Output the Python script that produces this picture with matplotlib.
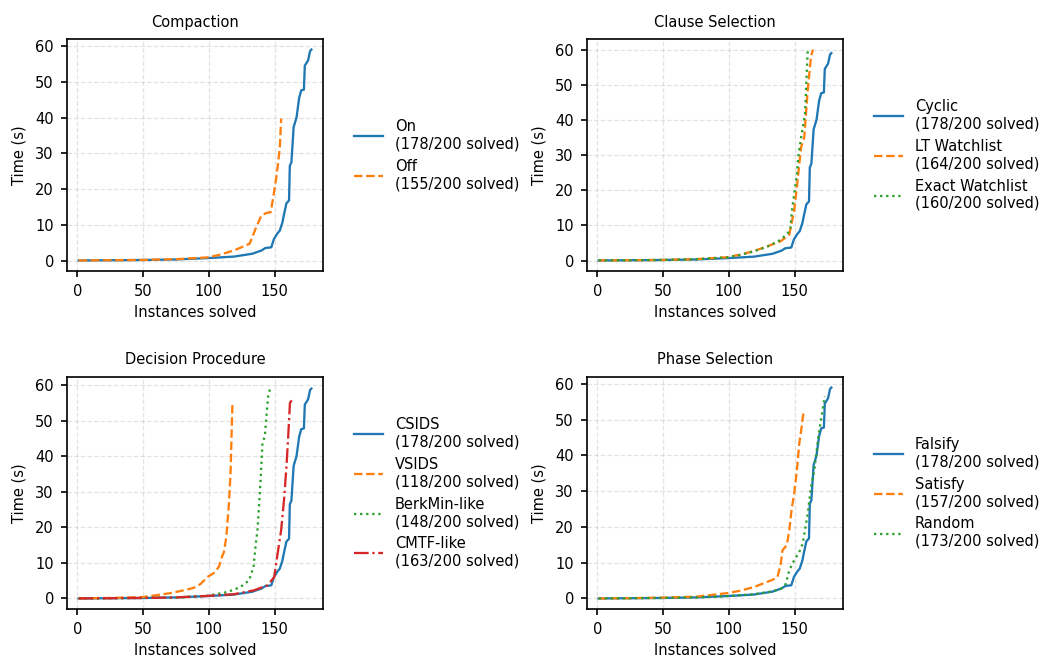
import matplotlib
matplotlib.use("Agg")
import matplotlib.pyplot as plt

# cactus curves: (instances solved, time in s) breakpoints
base_x = [1, 25, 50, 75, 100, 119, 133, 140, 143, 147.5, 149.5, 152, 154, 156, 157, 159, 161,
          161.6, 162.8, 164.5, 166.7, 168.7, 170.3, 172.3, 173, 175.5, 177, 178]
base_y = [0.02, 0.08, 0.15, 0.3, 0.7, 1.1, 1.9, 2.8, 3.5, 3.7, 6.0, 7.5, 8.4, 10.7, 12.6, 16.0, 16.8,
          26.5, 27.5, 37.3, 40.0, 45.5, 47.6, 47.8, 54.5, 56.0, 58.6, 59.0]

off_x = [1, 25, 50, 76, 100, 109, 119, 131, 136, 140, 143.7, 147, 149, 151.3, 152.6, 154, 155]
off_y = [0.02, 0.08, 0.18, 0.4, 0.9, 1.7, 2.8, 4.7, 9.3, 12.6, 13.3, 13.5, 17.7, 23.3, 27.0, 31.7, 39.7]

lt_x = [1, 25, 50, 75, 98.7, 109, 119, 129, 139.5, 146, 149.7, 151.8, 153.6, 155, 157.4, 158.7, 160,
        161.2, 162.5, 164]
lt_y = [0.02, 0.08, 0.18, 0.4, 0.95, 1.7, 2.7, 4.0, 5.5, 7.4, 14.2, 20.9, 27.5, 32.3, 35.0, 41.8, 48.4,
        53.0, 57.9, 60.0]

exact_x = [1, 25, 50, 75, 98.7, 109, 119, 129, 139.5, 146.7, 148, 151.8, 152.8, 155, 158, 159, 160]
exact_y = [0.02, 0.08, 0.17, 0.38, 0.9, 1.6, 2.6, 3.9, 5.9, 8.5, 14.2, 24.7, 29.4, 35.1, 41.8, 51.3, 59.6]

vsids_x = [1, 25, 50, 70.7, 81, 88.6, 93.8, 98.7, 104, 107.6, 110, 111.5, 113.3, 115.3, 116.6, 117.6, 118]
vsids_y = [0.03, 0.15, 0.4, 1.5, 2.3, 3.0, 4.1, 6.0, 7.2, 8.9, 11.7, 13.1, 17.3, 26.7, 36.2, 50.3, 55.0]

berk_x = [1, 25, 50, 75, 98.7, 114, 124, 130.6, 134, 135.7, 137, 138.3, 139.5, 140.8, 142.6, 144,
          145.2, 146.7, 148]
berk_y = [0.02, 0.08, 0.15, 0.3, 0.75, 1.8, 3.2, 5.1, 8.9, 15.4, 19.2, 26.7, 34.3, 43.7, 45.6, 52.2,
          56.9, 59.2, 59.3]

cmtf_x = [1, 25, 50, 75, 100, 119, 134.4, 144.6, 149.7, 152.3, 155, 157.4, 159.2, 160.5, 161.7, 163]
cmtf_y = [0.02, 0.08, 0.15, 0.3, 0.75, 1.2, 2.3, 3.7, 6.0, 12.6, 19.2, 28.6, 38.0, 46.5, 55.0, 55.7]

sat_x = [1, 25, 50, 75, 98.7, 109, 119, 126.8, 133, 137, 139.5, 140.8, 144.1, 146, 147.7, 149.7,
         151.8, 153.6, 155.4, 157]
sat_y = [0.02, 0.1, 0.25, 0.5, 1.5, 2.2, 3.2, 4.3, 5.2, 6.0, 9.7, 13.5, 14.9, 19.1, 24.7, 29.3,
         35.9, 43.4, 48.0, 52.7]

rand_x = [1, 25, 50, 75, 100, 119, 133, 139.5, 143.4, 146, 149.7, 153.6, 156.2, 160, 162.5, 165,
          168, 170, 172, 173]
rand_y = [0.02, 0.08, 0.15, 0.3, 0.7, 1.2, 2.0, 2.7, 4.1, 7.9, 10.7, 13.0, 15.3, 23.7, 31.2, 35.7,
          45.0, 49.7, 54.4, 56.6]

panels = [
    ("Compaction", [("On", 178, base_x, base_y), ("Off", 155, off_x, off_y)]),
    ("Clause Selection", [("Cyclic", 178, base_x, base_y), ("LT Watchlist", 164, lt_x, lt_y),
                          ("Exact Watchlist", 160, exact_x, exact_y)]),
    ("Decision Procedure", [("CSIDS", 178, base_x, base_y), ("VSIDS", 118, vsids_x, vsids_y),
                            ("BerkMin-like", 148, berk_x, berk_y), ("CMTF-like", 163, cmtf_x, cmtf_y)]),
    ("Phase Selection", [("Falsify", 178, base_x, base_y), ("Satisfy", 157, sat_x, sat_y),
                         ("Random", 173, rand_x, rand_y)]),
]
total = 200

styles = ["-", "--", ":", "-."]
colors = ["#1f77b4", "#ff7f0e", "#2ca02c", "#d62728"]

plt.rcParams.update({"font.size": 7, "font.family": ["DejaVu Sans"],
                     "xtick.major.size": 2.8, "ytick.major.size": 2.8})
fig = plt.figure(figsize=(1041 / 150, 657 / 150), dpi=150)

rects = [(0.0644, 0.5875, 0.2459, 0.3531), (0.5639, 0.5875, 0.2459, 0.3531),
         (0.0644, 0.0731, 0.2459, 0.3531), (0.5639, 0.0731, 0.2459, 0.3531)]

for rect, (title, series) in zip(rects, panels):
    ax = fig.add_axes(rect)
    for i, (name, solved, xs, ys) in enumerate(series):
        ax.plot(xs, ys, linestyle=styles[i], color=colors[i], linewidth=1.1,
                label=f"{name}\n({solved}/{total} solved)")
    ax.set_title(title, fontsize=7)
    ax.set_xlabel("Instances solved", labelpad=3)
    ax.set_ylabel("Time (s)")
    ax.set_xticks([0, 50, 100, 150])
    ax.set_yticks([0, 10, 20, 30, 40, 50, 60])
    ax.grid(True, linestyle="--", alpha=0.35, linewidth=0.6)
    ax.legend(loc="center left", bbox_to_anchor=(1.07, 0.5), frameon=False)

fig.savefig("out.png", dpi=150)
